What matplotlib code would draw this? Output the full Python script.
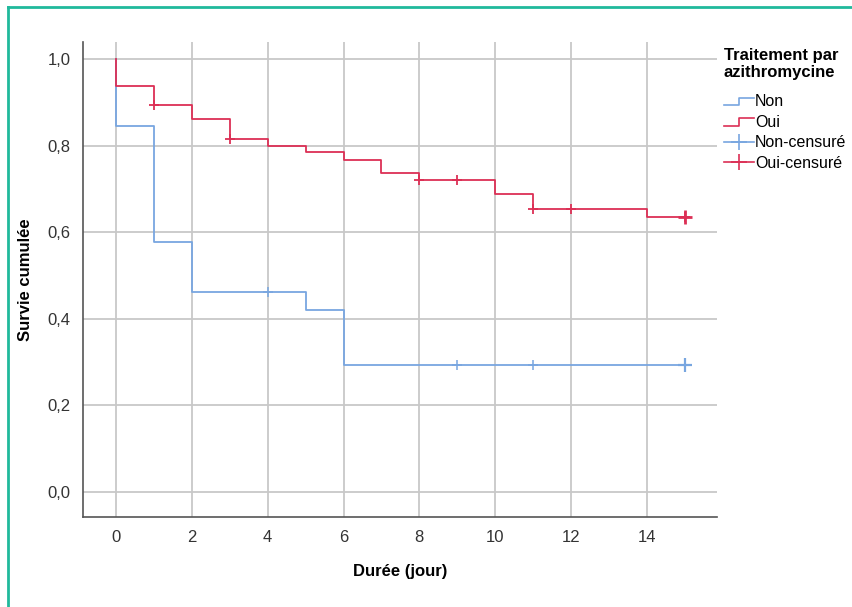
import matplotlib
matplotlib.use('Agg')
import matplotlib.pyplot as plt
from matplotlib.lines import Line2D
from matplotlib.legend_handler import HandlerBase

plt.rcParams['font.family'] = ['Liberation Sans', 'DejaVu Sans']

# Kaplan-Meier estimates (step changes)
non_t = [0, 0, 1, 2, 5, 6, 15]
non_s = [1.0, 0.845, 0.577, 0.462, 0.420, 0.294, 0.294]
oui_t = [0, 0, 1, 2, 3, 4, 5, 6, 7, 8, 10, 11, 14, 15]
oui_s = [1.0, 0.938, 0.894, 0.862, 0.816, 0.800, 0.785, 0.768, 0.737, 0.722, 0.688, 0.654, 0.635, 0.635]

# censored observations
non_cens_t = [4, 9, 11, 15]
non_cens_s = [0.462, 0.294, 0.294, 0.294]
oui_cens_t = [1, 3, 8, 9, 11, 12, 15]
oui_cens_s = [0.894, 0.816, 0.722, 0.722, 0.654, 0.654, 0.635]

blue = '#78a6e0'
red = '#dc2f55'


class StepHandler(HandlerBase):
    def create_artists(self, legend, orig_handle, xd, yd, w, h, fontsize, trans):
        c = orig_handle.get_color()
        xs = [xd, xd + w * 0.5, xd + w * 0.5, xd + w]
        ys = [yd + h * 0.1, yd + h * 0.1, yd + h * 0.75, yd + h * 0.75]
        ln = Line2D(xs, ys, color=c, lw=1.2, transform=trans)
        return [ln]


fig = plt.figure(figsize=(8.52, 6.07), dpi=100)
ax = fig.add_axes([83 / 852, 1 - 517 / 607, (717 - 83) / 852, (517 - 42) / 607])

ax.step(non_t, non_s, where='post', color=blue, lw=1.3, zorder=3)
ax.step(oui_t, oui_s, where='post', color=red, lw=1.3, zorder=4)
ax.plot(non_cens_t, non_cens_s, ls='none', marker='+', ms=7, mew=1.1, color=blue, zorder=5)
ax.plot(oui_cens_t, oui_cens_s, ls='none', marker='+', ms=7, mew=1.3, color=red, zorder=6)
# several censored at the last time point -> heavier mark
ax.plot(non_cens_t[-1:], non_cens_s[-1:], ls='none', marker='+', ms=10, mew=1.6, color=blue, zorder=5)
ax.plot(oui_cens_t[-1:], oui_cens_s[-1:], ls='none', marker='+', ms=10, mew=2.0, color=red, zorder=6)

ax.set_xlim(-0.87, 15.85)
ax.set_ylim(-0.058, 1.04)
ax.set_xticks(range(0, 15, 2))
ax.set_yticks([0, 0.2, 0.4, 0.6, 0.8, 1.0])
ax.set_yticklabels(['0,0', '0,2', '0,4', '0,6', '0,8', '1,0'])
ax.grid(True, color='#c8c8c8', lw=1.3)
ax.set_axisbelow(True)
for s in ['top', 'right']:
    ax.spines[s].set_visible(False)
for s in ['left', 'bottom']:
    ax.spines[s].set_color('#555555')
    ax.spines[s].set_linewidth(1.2)
ax.tick_params(length=0, labelsize=12, colors='#333333', pad=9)
ax.set_xlabel('Durée (jour)', fontsize=12, fontweight='bold', labelpad=14)
ax.set_ylabel('Survie cumulée', fontsize=12, fontweight='bold', labelpad=10)

handles = [Line2D([], [], color=blue), Line2D([], [], color=red),
           Line2D([], [], color=blue, marker='+', ms=12, mew=1.2, lw=1.2),
           Line2D([], [], color=red, marker='+', ms=12, mew=1.2, lw=1.2)]
labels = ['Non', 'Oui', 'Non-censuré', 'Oui-censuré']
leg = fig.legend(handles, labels, loc='upper left', bbox_to_anchor=(716 / 852, 1 - 40 / 607),
                 title='Traitement par\nazithromycine', frameon=False, fontsize=11.5,
                 handlelength=1.9, handletextpad=0.05, labelspacing=0.35, borderpad=0,
                 handler_map={handles[0]: StepHandler(), handles[1]: StepHandler()})
leg.get_title().set_fontweight('bold')
leg.get_title().set_fontsize(12)
leg._legend_box.align = 'left'
leg._legend_box.sep = 10

# teal frame
teal = '#20b99c'
fig.add_artist(Line2D([8 / 852, 8 / 852], [0, 1 - 7 / 607], color=teal, lw=2, transform=fig.transFigure))
fig.add_artist(Line2D([8 / 852, 1], [1 - 7 / 607, 1 - 7 / 607], color=teal, lw=2, transform=fig.transFigure))

fig.savefig('out.png', dpi=100)
